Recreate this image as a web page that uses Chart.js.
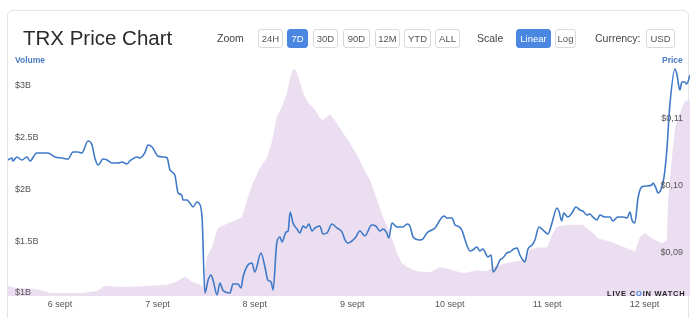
<!DOCTYPE html>
<html><head><meta charset="utf-8">
<script src="https://cdn.jsdelivr.net/npm/chart.js@4.4.1/dist/chart.umd.min.js"></script>
<style>
body{margin:0;background:#fff;font-family:"Liberation Sans",Arial,sans-serif;width:700px;height:318px;overflow:hidden;position:relative}
.card{position:absolute;left:7px;top:10px;width:682px;height:340px;border:1px solid #e4e4e4;border-radius:6px;box-sizing:border-box}
#c{position:absolute;left:0;top:0}
.t{position:absolute;white-space:nowrap}
.title{left:23px;top:26px;font-size:20.5px;color:#2a2a2a;line-height:24px}
.lbl{font-size:10.5px;color:#444;top:32px;line-height:12px}
.btn{position:absolute;top:29px;height:19px;box-sizing:border-box;border:1px solid #dadada;border-radius:3px;font-size:9.5px;color:#555;text-align:center;line-height:17px;background:#fff;padding:0}
.on{background:#4a87e0;border-color:#4a87e0;color:#fff}
.ax{font-size:8.5px;font-weight:bold;color:#4c7cc4;top:55px;line-height:11px}
.wm{left:607px;top:289px;font-size:7.5px;font-weight:bold;letter-spacing:0.8px;color:#1e1e1e;line-height:9px}
.wm span{color:#3f86df}
</style></head>
<body>
<div class="card"></div>
<canvas id="c" width="700" height="318"></canvas>
<div class="t title">TRX Price Chart</div>
<div class="t lbl" style="left:217px">Zoom</div>
<div class="btn" style="left:258px;width:25px">24H</div>
<div class="btn on" style="left:287px;width:21px">7D</div>
<div class="btn" style="left:313px;width:25px">30D</div>
<div class="btn" style="left:343px;width:27px">90D</div>
<div class="btn" style="left:375px;width:25px">12M</div>
<div class="btn" style="left:404px;width:27px">YTD</div>
<div class="btn" style="left:435px;width:25px">ALL</div>
<div class="t lbl" style="left:477px">Scale</div>
<div class="btn on" style="left:516px;width:35px">Linear</div>
<div class="btn" style="left:555px;width:21px">Log</div>
<div class="t lbl" style="left:595px">Currency:</div>
<div class="btn" style="left:646px;width:29px">USD</div>
<div class="t ax" style="left:15px">Volume</div>
<div class="t ax" style="left:662px">Price</div>
<div class="t wm">LIVE C<span>O</span>IN WATCH</div>
<script>
// x values: hours from 6 sept 00:00
const DAY_TICKS = [0, 24, 48, 72, 96, 120, 144];
const DAY_LABELS = ['6 sept', '7 sept', '8 sept', '9 sept', '10 sept', '11 sept', '12 sept'];
const X_RANGE = [-12.8, 155.2];

const PRICE_HOURS = [
  -12.8,-11.8,-11.6,-10.6,-9.4,-8.1,-7.4,-5.7,-3.0,-1.2,
  0.5,2.0,3.2,4.4,5.4,6.9,7.9,8.6,9.4,10.6,
  11.6,12.8,14.3,15.3,16.5,17.2,19.0,19.7,20.9,21.7,22.7,
  24.1,25.4,26.4,27.1,28.3,29.1,30.0,30.3,31.3,32.0,
  32.8,33.7,34.2,35.0,35.7,36.5,37.2,37.7,38.7,39.4,
  40.1,41.9,42.6,43.8,44.6,45.1,46.3,47.3,48.0,49.5,
  50.5,51.2,52.0,52.5,53.4,54.2,54.7,55.7,56.2,56.7,
  57.4,58.4,59.1,59.9,60.6,61.3,62.1,62.8,64.0,64.8,
  65.8,67.0,68.2,69.5,70.2,70.9,72.7,73.9,75.1,76.8,
  77.8,78.8,79.6,80.5,81.0,81.8,83.0,84.5,85.5,86.2,
  87.0,88.7,89.4,90.4,91.6,92.4,93.6,94.6,95.3,96.6,
  97.3,98.0,99.0,99.8,101.0,101.7,102.7,103.4,104.2,104.7,
  105.4,106.2,106.7,107.6,108.4,109.1,110.1,110.8,111.8,112.6,
  113.3,114.0,114.5,115.3,116.3,117.0,118.0,119.0,120.2,121.2,
  122.4,122.9,123.6,124.1,125.1,126.1,127.1,128.1,128.8,129.8,
  130.5,131.3,132.3,133.0,134.2,135.5,136.2,137.4,138.7,139.7,
  140.4,140.9,141.6,142.4,143.3,144.6,145.8,146.1,146.8,147.3,
  148.0,148.8,149.5,150.2,151.5,152.0,152.7,153.2,153.9,154.4,155.2
];
const PRICE = [
  0.10388,0.10418,0.10373,0.10433,0.10388,0.10433,0.10373,0.10493,0.10493,0.10433,
  0.10418,0.10403,0.10507,0.10507,0.10493,0.10672,0.10612,0.10418,0.10313,0.10403,
  0.10388,0.10343,0.10343,0.10358,0.10328,0.10373,0.10433,0.10418,0.10493,0.10612,0.10582,
  0.10448,0.10433,0.10418,0.10239,0.10164,0.09896,0.09866,0.09791,0.09791,0.09746,
  0.09687,0.09761,0.09746,0.09537,0.08403,0.08597,0.08672,0.08597,0.08373,0.08552,
  0.08448,0.08403,0.08537,0.08537,0.08478,0.08642,0.08821,0.08851,0.08716,0.09000,
  0.08791,0.08597,0.08567,0.08448,0.09149,0.09239,0.09164,0.09313,0.09328,0.09612,
  0.09448,0.09358,0.09299,0.09403,0.09373,0.09433,0.09328,0.09373,0.09403,0.09284,
  0.09299,0.09433,0.09373,0.09313,0.09194,0.09149,0.09224,0.09328,0.09254,0.09418,
  0.09403,0.09328,0.09358,0.09299,0.09224,0.09448,0.09388,0.09388,0.09433,0.09403,
  0.09239,0.09194,0.09209,0.09299,0.09343,0.09373,0.09493,0.09552,0.09522,0.09522,
  0.09418,0.09403,0.09343,0.09194,0.09030,0.09045,0.09090,0.09030,0.09060,0.09015,
  0.08940,0.08970,0.08716,0.08791,0.08896,0.08925,0.09000,0.09015,0.09060,0.09075,
  0.08970,0.08896,0.08866,0.09060,0.09119,0.09194,0.09388,0.09343,0.09284,0.09448,
  0.09672,0.09627,0.09478,0.09597,0.09537,0.09597,0.09687,0.09642,0.09627,0.09567,
  0.09582,0.09537,0.09493,0.09567,0.09537,0.09537,0.09478,0.09537,0.09537,0.09522,
  0.09612,0.09493,0.09448,0.09821,0.09985,0.10000,0.10015,0.10045,0.09970,0.09896,
  0.09940,0.10134,0.10537,0.11179,0.11746,0.11657,0.11433,0.11552,0.11552,0.11522,0.11657
];

const VOLUME_HOURS = [
  -12.8,-11.1,-6.7,-3.7,-2.5,4.9,5.7,9.1,11.1,14.0,18.0,22.2,26.4,28.8,30.8,32.5,34.5,35.2,
  36.2,37.4,38.7,39.4,41.9,43.6,44.8,46.1,47.5,49.3,51.0,52.2,53.4,54.7,55.9,56.7,57.4,58.1,
  59.1,59.9,61.1,62.8,64.5,65.8,66.5,67.7,69.5,71.4,73.2,74.6,76.4,78.1,79.6,81.3,83.0,84.2,
  85.5,87.9,91.1,93.6,96.1,99.3,102.7,105.2,106.7,110.1,114.5,115.8,117.7,120.0,121.2,122.4,
  125.1,128.8,131.0,132.5,136.0,139.2,141.6,142.9,144.1,145.8,148.3,149.5,149.8,150.7,151.5,
  152.7,153.9,155.2
];
const VOLUME_B = [
  1.07,1.05,1.04,1.02,1.00,1.00,1.00,1.02,1.07,1.06,1.06,1.07,1.08,1.11,1.16,1.11,1.08,1.06,
  1.35,1.44,1.61,1.64,1.68,1.71,1.73,1.90,2.06,2.21,2.31,2.46,2.70,2.80,2.93,3.08,3.16,3.16,
  3.04,2.93,2.84,2.77,2.67,2.70,2.73,2.67,2.56,2.45,2.33,2.22,2.09,1.90,1.73,1.58,1.39,1.29,
  1.25,1.21,1.20,1.25,1.23,1.19,1.22,1.21,1.25,1.29,1.32,1.42,1.44,1.44,1.56,1.64,
  1.66,1.66,1.59,1.53,1.49,1.44,1.40,1.54,1.58,1.53,1.48,1.51,1.90,2.29,2.60,
  2.74,2.85,2.87
];
const VOLUME_TICKS = [1, 1.5, 2, 2.5, 3];
const VOLUME_RANGE = [0.971, 3.193];
const PRICE_TICKS = [0.09, 0.10, 0.11];
const PRICE_RANGE = [0.08358, 0.11791];

const FONT = '"Liberation Sans", Arial, sans-serif';
const tickFont = {family: FONT, size: 9};
const noGrid = {display: false, drawTicks: false, tickLength: 0};

new Chart(document.getElementById('c'), {
  type: 'line',
  data: {
    datasets: [
      {
        label: 'Price',
        data: PRICE_HOURS.map((h, i) => ({x: h, y: PRICE[i]})),
        yAxisID: 'price',
        borderColor: '#3f79c8',
        borderWidth: 1.6,
        pointRadius: 0,
        tension: 0.3,
        cubicInterpolationMode: 'monotone',
        fill: false
      },
      {
        label: 'Volume',
        data: VOLUME_HOURS.map((h, i) => ({x: h, y: VOLUME_B[i]})),
        yAxisID: 'vol',
        borderWidth: 0,
        borderColor: 'rgba(0,0,0,0)',
        backgroundColor: '#ebdef0',
        pointRadius: 0,
        tension: 0,
        fill: 'start'
      }
    ]
  },
  options: {
    responsive: false,
    animation: false,
    devicePixelRatio: 1,
    layout: {padding: {left: 8, right: 10, top: 66, bottom: 8}},
    plugins: {legend: {display: false}, tooltip: {enabled: false}},
    scales: {
      x: {
        type: 'linear', min: X_RANGE[0], max: X_RANGE[1],
        grid: noGrid, border: {display: false},
        afterBuildTicks: s => { s.ticks = DAY_TICKS.map(v => ({value: v})); },
        afterFit: s => { s.height = 14; s.paddingLeft = 0; s.paddingRight = 0; },
        ticks: {
          autoSkip: false, maxRotation: 0, padding: 3, color: '#555', font: tickFont,
          callback: v => DAY_LABELS[DAY_TICKS.indexOf(v)]
        }
      },
      vol: {
        type: 'linear', position: 'left', min: VOLUME_RANGE[0], max: VOLUME_RANGE[1],
        grid: noGrid, border: {display: false},
        afterBuildTicks: s => { s.ticks = VOLUME_TICKS.map(v => ({value: v})); },
        afterFit: s => { s.width = 0; s.paddingTop = 0; s.paddingBottom = 0; },
        ticks: {z: 1, mirror: true, padding: 7, color: '#555', font: tickFont, callback: v => '$' + v + 'B'}
      },
      price: {
        type: 'linear', position: 'right', min: PRICE_RANGE[0], max: PRICE_RANGE[1],
        grid: noGrid, border: {display: false},
        afterBuildTicks: s => { s.ticks = PRICE_TICKS.map(v => ({value: v})); },
        afterFit: s => { s.width = 0; s.paddingTop = 0; s.paddingBottom = 0; },
        ticks: {z: 1, mirror: true, padding: -7, color: '#555', font: tickFont, callback: v => '$' + v.toFixed(2).replace('.', ',')}
      }
    }
  }
});
</script>
</body></html>
